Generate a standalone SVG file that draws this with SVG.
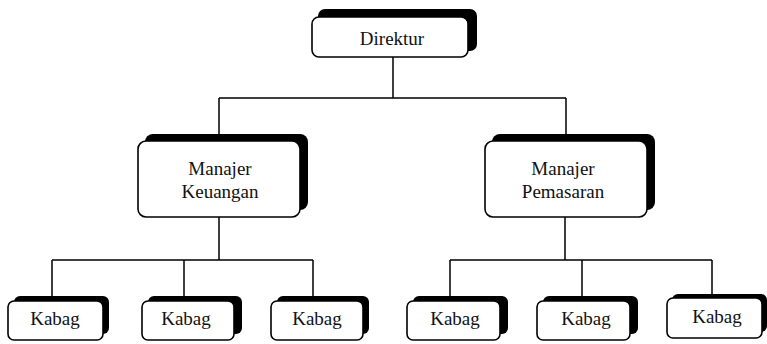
<svg xmlns="http://www.w3.org/2000/svg" width="767" height="344" viewBox="0 0 767 344">
<style>
.sh{fill:#000}
.bx{fill:#fff;stroke:#000;stroke-width:1.6}
.ln{fill:none;stroke:#000;stroke-width:1.5}
text{font-family:"Liberation Serif","Times New Roman",serif;font-size:19px;fill:#111;text-anchor:middle}
</style>
<rect width="767" height="344" fill="#fff"/>
<g id="connectors">
<path class="ln" d="M393 57V98M219 98H566M219 98V135M566 98V135"/>
<path class="ln" d="M219 217V260M52 260H313M52 260V298M184 260V298M313 260V298"/>
<path class="ln" d="M565 217V260M450 260H712M450 260V298M582 260V298M712 260V296"/>
</g>
<g id="direktur">
<rect class="sh" x="318" y="9" width="159" height="42" rx="7"/>
<rect class="bx" x="312" y="17" width="156" height="40" rx="7"/>
<text x="392" y="45">Direktur</text>
</g>
<g id="manajer-keuangan">
<rect class="sh" x="145" y="134" width="163" height="76" rx="8"/>
<rect class="bx" x="138" y="141" width="162" height="76" rx="8"/>
<text x="220" y="175">Manajer</text>
<text x="220" y="198">Keuangan</text>
</g>
<g id="manajer-pemasaran">
<rect class="sh" x="492" y="134" width="163" height="76" rx="8"/>
<rect class="bx" x="485" y="141" width="162" height="76" rx="8"/>
<text x="563" y="175">Manajer</text>
<text x="563" y="198">Pemasaran</text>
</g>
<g id="kabag-1">
<rect class="sh" x="14" y="296" width="95" height="38" rx="6"/>
<rect class="bx" x="8" y="301" width="95" height="39" rx="6"/>
<text x="55" y="325">Kabag</text>
</g>
<g id="kabag-2">
<rect class="sh" x="148" y="296" width="94" height="38" rx="6"/>
<rect class="bx" x="142" y="301" width="92" height="39" rx="6"/>
<text x="186" y="325">Kabag</text>
</g>
<g id="kabag-3">
<rect class="sh" x="277" y="296" width="92" height="38" rx="6"/>
<rect class="bx" x="271" y="301" width="92" height="39" rx="6"/>
<text x="317" y="325">Kabag</text>
</g>
<g id="kabag-4">
<rect class="sh" x="413" y="296" width="95" height="38" rx="6"/>
<rect class="bx" x="407" y="301" width="93" height="39" rx="6"/>
<text x="455" y="325">Kabag</text>
</g>
<g id="kabag-5">
<rect class="sh" x="543" y="296" width="95" height="38" rx="6"/>
<rect class="bx" x="537" y="301" width="93" height="39" rx="6"/>
<text x="586" y="325">Kabag</text>
</g>
<g id="kabag-6">
<rect class="sh" x="672" y="294" width="95" height="38" rx="6"/>
<rect class="bx" x="667" y="298" width="95" height="40" rx="6"/>
<text x="717" y="323">Kabag</text>
</g>
</svg>
